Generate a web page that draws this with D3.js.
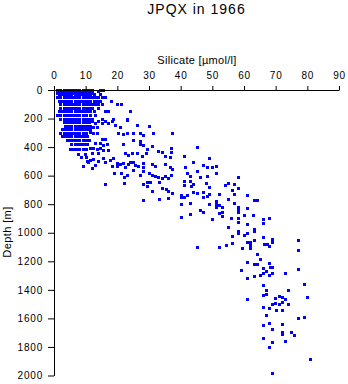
<!DOCTYPE html>
<html>
<head>
<meta charset="utf-8">
<script src="https://cdn.jsdelivr.net/npm/d3@7"></script>
<style>
  html, body { margin: 0; padding: 0; background: #fff; }
  svg { display: block; }
  text { font-family: "Liberation Sans", Arial, Helvetica, sans-serif; fill: #000; }
</style>
</head>
<body>
<div id="chart"></div>
<script>
// ---- data ----
const titleText = "JPQX in 1966";
const xLabel = "Silicate [\u00b5mol/l]";
const yLabel = "Depth [m]";
const xTicks = [0, 10, 20, 30, 40, 50, 60, 70, 80, 90];
const yTicks = [0, 200, 400, 600, 800, 1000, 1200, 1400, 1600, 1800, 2000];

// dense upper layer: [depth, [silicate values...]]
const surfaceRows = [
  [0,   [1,2,3,4,5,6,7,8,9,10,11,12,14.5,15.5]],
  [10,  [1.5,2.5,3.5,4.5,5.5,6.5,7.5,8.5,9.5,10.5,11.5,14]],
  [20,  [1,2,3,4,5,6,7,8,9,10,11,12]],
  [30,  [1.5,2.5,3.5,4.5,5.5,6.5,7.5,8.5,9.5,10.5,11.5,12.5,14.5]],
  [50,  [1,2,3,4,5,6,7,8,9,10,11,12,13,14,15,16]],
  [75,  [1.5,2.5,3.5,4.5,5.5,6.5,7.5,8.5,9.5,10.5,11.5,12.5,13.5,14.5,18]],
  [100, [2,3,4,5,6,7,8,9,10,11,12,13,14,15,19.8,21.2]],
  [125, [2,3,4,5,6,7,8,9,10,11,12,14]],
  [150, [1.5,2.5,3.5,4.5,5.5,6.5,7.5,8.5,9.5,10.5,11.5,12.5,16,17,24]],
  [175, [1,2,3,4,5,6,7,8,9,10,11.5,13]],
  [200, [2,3,4,5,6,7,8,9,10,11,12,15,18.7,23]],
  [225, [3,4,5,6,7,8,9,10,11]],
  [250, [3.5,4.5,5.5,6.5,7.5,8.5,9.5,10.5]],
  [275, [2.5,3.5,4.5,5.5,6.5,7.5,8.5,9.5,10.5,11.5]],
  [300, [2,3,4,5,6,7,8,9,10]],
  [325, [2.5,3.5,4.5,5.5,6.5,7.5,8.5,9.5,10.5]],
  [350, [4,5,6,7,8,9,10,11]],
  [375, [5.5,6.5,7.5,8.5,9.5,10.5]],
  [410, [5,6,7,8,9,10]],
  [445, [7.6,9.8]],
  [470, [8.5,10]],
  [500, [10.4]]
];

// scattered samples: [silicate, depth]
const profilePoints = [
  [12.0,218],[12.9,232],[13.9,218],[15.2,232],[16.1,218],[17.1,232],[18.3,218],[19.3,246],
  [11.4,253],[12.3,260],[13.6,260],[20.8,260],[23.1,211],[26.2,246],[30.0,253],
  [11.4,295],[12.3,302],[13.6,302],[20.2,302],[21.8,309],[23.1,302],[24.9,302],[27.2,302],
  [28.1,316],[31.3,302],[37.3,302],[15.2,344],[16.1,344],[12.9,372],[14.5,372],[15.5,386],
  [16.7,379],[24.9,351],[27.2,358],[27.2,379],[28.1,386],[30.9,393],[21.8,379],
  [11.4,407],[12.3,407],[13.6,414],[14.5,407],[15.5,421],[17.1,421],[29.4,414],[29.1,442],
  [32.8,428],[34.1,435],[36.9,407],[36.9,435],[45.2,400],[12.0,442],[13.9,442],[22.4,442],
  [23.4,456],[24.6,442],[26.2,442],[27.8,463],[35.1,463],[36.6,470],[41.1,463],[48.9,477],
  [11.4,491],[12.3,484],[15.5,477],[18.6,477],
  [9.2,533],[10.7,505],[12.9,526],[12.0,547],[13.9,498],[16.1,505],[17.7,491],[18.3,533],
  [19.9,512],[19.9,533],[20.8,519],[21.8,512],[22.4,540],[23.4,519],[24.0,505],[24.9,505],
  [25.6,526],[26.5,533],[28.1,512],[28.1,540],[28.1,568],[30.9,519],[31.9,533],[35.1,519],
  [36.6,540],[37.3,554],[18.9,582],[21.2,582],[23.1,596],[22.1,611],[24.9,561],[27.2,596],
  [30.0,582],[30.9,596],[31.9,604],[32.8,611],[34.1,618],[35.1,604],[36.0,618],[36.9,596],
  [16.1,660],[22.1,653],[28.1,660],[29.4,646],[29.4,674],[30.3,646],[30.9,709],[33.2,646],
  [34.1,688],[35.4,695],[36.0,709],[37.3,723],[28.1,772],[33.2,765],[36.0,758],
  [43.9,505],[41.4,540],[42.0,582],[42.9,604],
  [47.1,526],[48.3,540],[49.9,540],[51.2,533],[45.2,568],[51.2,582],[46.1,611],[48.3,604],[58.1,611],
  [41.1,639],[41.1,667],[42.9,639],[43.9,660],[43.3,674],[48.0,653],[48.9,681],[54.0,667],
  [54.9,653],[56.8,660],[58.1,688],[40.1,737],[40.1,751],[41.1,751],[42.0,737],[43.9,716],
  [45.2,723],[47.1,716],[47.1,751],[48.3,744],[48.9,730],[52.1,730],[56.2,702],[56.8,730],
  [60.9,737],[63.2,772],[64.1,772],[54.9,765],[40.1,800],[42.9,793],[48.9,800],[51.2,779],
  [51.2,800],[51.2,821],[52.1,807],[53.1,821],[56.8,793],[58.1,821],[58.1,842],[58.1,856],
  [60.9,828],[46.1,842],[47.1,856],[42.9,870],[52.1,863],[53.1,856],[53.1,884],[60.0,877],
  [62.8,877],[40.1,891],[49.9,905],[55.9,898],[58.1,898],[58.1,926],[60.9,940],[66.0,905],
  [66.0,933],[67.9,898],[54.9,961],[58.1,990],[58.1,1004],[56.2,1025],[60.0,1018],[60.9,1004],
  [63.2,975],[63.2,990],[66.0,1032],[68.8,1046],[68.8,1067],[60.9,1067],[61.9,1067],[61.9,1088],
  [63.2,1053],[66.3,1081],[67.3,1081],[67.9,1095],[56.2,1074],[54.3,1088],[52.1,1102],[45.2,1102],
  [59.4,1109],[61.9,1109],[77.1,1053],
  [77.1,1123],[64.1,1151],[65.1,1186],[60.9,1207],[63.2,1221],[64.1,1221],[67.9,1214],[66.0,1249],
  [68.2,1242],[68.8,1242],[59.1,1263],[67.0,1270],[66.0,1284],[65.1,1298],[67.9,1298],[68.8,1284],
  [72.9,1284],[77.1,1256],[60.9,1319],[63.2,1305],[66.0,1368],[79.0,1361],[67.0,1404],[67.0,1432],
  [66.0,1439],[73.9,1404],[79.9,1453],[60.9,1467],[69.8,1460],[71.1,1446],[72.0,1453],[72.9,1467],
  [72.0,1488],[68.8,1502],[69.8,1495],[71.1,1502],[73.9,1502],
  [66.0,1523],[67.9,1530],[70.1,1544],[72.0,1544],[67.0,1579],[77.1,1600],[79.0,1593],[67.9,1635],
  [66.0,1649],[72.0,1642],[68.8,1677],[72.0,1698],[72.0,1712],[74.8,1698],[75.8,1719],[66.0,1740],
  [72.9,1761],[68.8,1768],[67.9,1797],[80.8,1881],[68.8,1979]
];

// ---- drawing ----
const W = 348, H = 384;
const svg = d3.select("#chart").append("svg")
  .attr("width", W).attr("height", H)
  .attr("viewBox", `0 0 ${W} ${H}`);
svg.append("rect").attr("width", W).attr("height", H).attr("fill", "#fff");

const x = d3.scaleLinear().domain([0, 90]).range([54, 339]);
const y = d3.scaleLinear().domain([0, 2000]).range([90, 375.5]);

const allPoints = [];
surfaceRows.forEach(([d, list]) => list.forEach(s => allPoints.push([s, d])));
profilePoints.forEach(p => allPoints.push(p));

svg.append("g")
  .selectAll("rect")
  .data(allPoints)
  .join("rect")
  .attr("x", d => Math.round(x(d[0])) - 1)
  .attr("y", d => Math.round(y(d[1])) - 1)
  .attr("width", 3)
  .attr("height", 3)
  .attr("fill", "#0000ff")
  .attr("shape-rendering", "crispEdges");

// x axis (top)
const gx = svg.append("g")
  .attr("transform", `translate(0,${y(0)})`)
  .call(d3.axisTop(x).tickValues(xTicks).tickFormat(d3.format("d"))
    .tickSize(4).tickSizeOuter(0).tickPadding(7.5));
gx.selectAll("text").attr("font-size", 10).style("letter-spacing", "0.8px")
  .attr("font-family", '"Liberation Sans", Arial, sans-serif');

// y axis (left)
const gy = svg.append("g")
  .attr("transform", `translate(${x(0)},0)`)
  .call(d3.axisLeft(y).tickValues(yTicks).tickFormat(d3.format("d"))
    .tickSize(6).tickSizeOuter(0).tickPadding(5));
gy.selectAll("text").attr("font-size", 10).style("letter-spacing", "0.8px")
  .attr("font-family", '"Liberation Sans", Arial, sans-serif');

svg.selectAll(".domain, .tick line").attr("stroke", "#000").attr("stroke-width", 1);

// title
svg.append("text")
  .attr("x", 196.5).attr("y", 13.5)
  .attr("text-anchor", "middle")
  .attr("font-size", 14)
  .style("letter-spacing", "1px")
  .text(titleText);

// x label
svg.append("text")
  .attr("x", 197).attr("y", 64)
  .attr("text-anchor", "middle")
  .attr("font-size", 11)
  .style("letter-spacing", "0.3px")
  .text(xLabel);

// y label
svg.append("text")
  .attr("transform", `translate(11,232) rotate(-90)`)
  .attr("text-anchor", "middle")
  .attr("font-size", 11)
  .style("letter-spacing", "0.4px")
  .text(yLabel);
</script>
</body>
</html>
